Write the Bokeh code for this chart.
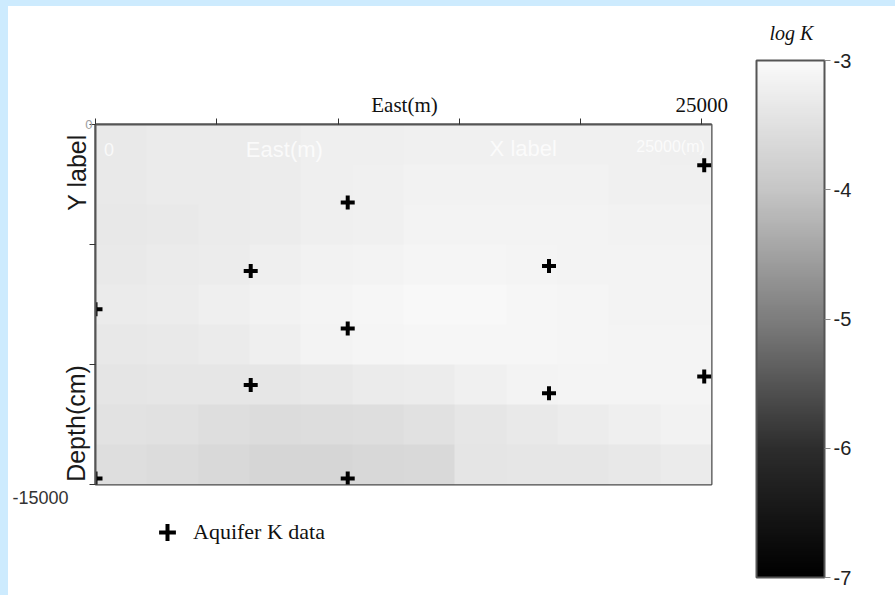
import numpy as np
from bokeh.plotting import figure
from bokeh.layouts import row, column
from bokeh.models import (LinearColorMapper, ColorBar, FixedTicker, Label,
                          Legend, LegendItem, LinearAxis)
from bokeh.embed import file_html
from bokeh.resources import INLINE

# ---------------- data ----------------
X_MAX = 25400          # east extent of the field (m)
Y_MIN = -15000         # depth of the field (cm)

# logK field, rows from top (0) to bottom (-15000), columns west -> east
logk_rows = [
    [-3.33, -3.31, -3.29, -3.27, -3.23, -3.21, -3.19, -3.19, -3.19, -3.19, -3.19, -3.21],
    [-3.33, -3.31, -3.29, -3.27, -3.23, -3.19, -3.17, -3.17, -3.17, -3.17, -3.19, -3.19],
    [-3.35, -3.33, -3.31, -3.27, -3.23, -3.19, -3.15, -3.15, -3.15, -3.15, -3.17, -3.17],
    [-3.33, -3.31, -3.27, -3.23, -3.17, -3.13, -3.10, -3.10, -3.12, -3.13, -3.15, -3.15],
    [-3.31, -3.27, -3.21, -3.17, -3.12, -3.08, -3.06, -3.06, -3.08, -3.10, -3.13, -3.13],
    [-3.35, -3.33, -3.29, -3.23, -3.13, -3.10, -3.08, -3.08, -3.08, -3.10, -3.12, -3.12],
    [-3.42, -3.40, -3.40, -3.38, -3.35, -3.31, -3.27, -3.19, -3.13, -3.12, -3.12, -3.12],
    [-3.48, -3.50, -3.54, -3.58, -3.56, -3.54, -3.50, -3.38, -3.33, -3.27, -3.21, -3.17],
    [-3.54, -3.58, -3.65, -3.69, -3.69, -3.67, -3.63, -3.42, -3.40, -3.38, -3.35, -3.31],
]

# Aquifer K data locations
well_x = [25100, 10400, 6400, 18700, 0, 10400, 6400, 18700, 25100, 0, 10400]
well_y = [-1700, -3250, -6100, -5900, -7700, -8500, -10850, -11200, -10500, -14750, -14750]

x_ticks = [0, 5000, 10000, 15000, 20000, 25000]
y_ticks = [-15000, -10000, -5000, 0]
cb_ticks = [-7, -6, -5, -4, -3]
K_LOW, K_HIGH = -7, -3

top_labels = {12741: "East(m)", 25000: "25000"}
left_labels = {-2000: "Y label", -12458: "Depth(cm)"}
corner_labels = {0: "0", -5000: "", -10000: "", -15000: ""}
depth_label = {98: "-15000"}

# ---------------- styling ----------------
SANS = "Liberation Sans"
SERIF = "Liberation Serif"
CROSS = dict(marker="cross", size=14, line_width=4, line_color="black")

anchor_k = [-7, -6, -5, -4, -3]
anchor_g = [0, 45, 125, 198, 250]
greys = np.interp(np.linspace(K_LOW, K_HIGH, 256), anchor_k, anchor_g).round().astype(int)
palette = ["#%02x%02x%02x" % (g, g, g) for g in greys]
mapper = LinearColorMapper(palette=palette, low=K_LOW, high=K_HIGH)

# ---------------- main map ----------------
p = figure(width=732, height=480, x_range=(0, X_MAX), y_range=(Y_MIN, 0),
           x_axis_location="above", output_backend="svg", toolbar_location=None,
           min_border_left=87, min_border_right=29, min_border_top=118,
           min_border_bottom=2)
p.background_fill_color = "white"
p.border_fill_color = "white"
p.grid.visible = False
p.outline_line_color = "#4a4a4a"
p.outline_line_width = 2

field = np.flipud(np.array(logk_rows))
p.image(image=[field], x=0, y=Y_MIN, dw=X_MAX, dh=-Y_MIN, color_mapper=mapper)

xa = p.xaxis[0]
xa.ticker = FixedTicker(ticks=list(top_labels), minor_ticks=x_ticks)
xa.major_label_overrides = top_labels
xa.major_label_text_font = SERIF
xa.major_label_text_font_size = "21px"
xa.major_label_text_color = "#111111"
xa.major_label_standoff = 2
xa.major_tick_out = 0
xa.major_tick_in = 0
xa.minor_tick_out = 6
xa.minor_tick_in = 0
xa.minor_tick_line_color = "#333333"
xa.axis_line_color = "#555555"
xa.axis_line_width = 2

ya = p.yaxis[0]
ya.ticker = FixedTicker(ticks=y_ticks)
ya.major_label_overrides = corner_labels
ya.major_label_text_font = SANS
ya.major_label_text_font_size = "13px"
ya.major_label_text_color = "#a0a0a0"
ya.major_label_standoff = -3
ya.major_tick_out = 6
ya.major_tick_in = 0
ya.minor_tick_line_color = None
ya.axis_line_color = "#555555"
ya.axis_line_width = 2
ya.major_tick_line_color = "#333333"

ya2 = LinearAxis(ticker=FixedTicker(ticks=list(left_labels)),
                 major_label_overrides=left_labels,
                 major_label_orientation="vertical",
                 major_label_text_font=SANS, major_label_text_font_size="25px",
                 major_label_text_color="#1a1a1a", major_label_standoff=-14,
                 axis_line_color=None, major_tick_line_color=None,
                 minor_tick_line_color=None)
p.add_layout(ya2, "left")

for txt, lx, ly, fs in [("0", 350, -1050, "18px"), ("East(m)", 6200, -1050, "22px"),
                        ("X label", 16250, -1000, "22px"), ("25000(m)", 22300, -900, "16px")]:
    p.add_layout(Label(x=lx, y=ly, text=txt, text_font=SANS, text_font_size=fs,
                       text_color="white", text_alpha=0.75, text_baseline="middle"))

p.scatter(well_x, well_y, **CROSS)

# ---------------- strip under the map (legend, -15000) ----------------
b = figure(width=732, height=109, x_range=(0, 616), y_range=(0, 109),
           x_axis_location=None, y_axis_location="left", min_border=0,
           output_backend="svg", toolbar_location=None)
b.outline_line_color = None
b.grid.visible = False
b.background_fill_color = "white"
b.border_fill_color = "white"
by = b.yaxis[0]
by.ticker = FixedTicker(ticks=list(depth_label))
by.major_label_overrides = depth_label
by.major_label_text_font = SANS
by.major_label_text_font_size = "18px"
by.major_label_text_color = "#333333"
by.major_label_standoff = 27
by.major_tick_out = 0
by.major_tick_in = 0
by.major_tick_line_color = None
by.minor_tick_line_color = None
by.axis_line_color = None

key = b.scatter(well_x[:1], well_y[:1], visible=False, **CROSS)
b.add_layout(Legend(items=[LegendItem(label="Aquifer K data", renderers=[key])],
                    location=(51, 42), glyph_width=42, glyph_height=42,
                    label_standoff=5, padding=0, margin=0, spacing=0,
                    border_line_color=None, background_fill_alpha=0,
                    inactive_fill_alpha=0,
                    label_text_font=SERIF, label_text_font_size="22px",
                    label_text_color="#111111"), "center")

# ---------------- colour bar ----------------
c = figure(width=155, height=589, x_range=(0, 155), y_range=(0, 589),
           x_axis_location=None, y_axis_location=None, min_border=0,
           output_backend="svg", toolbar_location=None)
c.outline_line_color = None
c.grid.visible = False
c.background_fill_color = "white"
c.border_fill_color = "white"
cb = ColorBar(color_mapper=mapper, ticker=FixedTicker(ticks=cb_ticks),
              major_label_overrides={t: str(t) for t in cb_ticks},
              width=68, height=517, location=(16, 18), padding=0,
              bar_line_color="#555555", bar_line_width=2,
              major_tick_in=0, major_tick_out=6, major_tick_line_color="#888888",
              minor_tick_line_color=None, label_standoff=3,
              major_label_text_font=SANS, major_label_text_font_size="20px",
              major_label_text_color="#222222",
              background_fill_alpha=0, border_line_color=None)
c.add_layout(cb, "center")
c.add_layout(Label(x=51, y=563, text="log K", text_font=SERIF, text_font_style="italic",
                   text_font_size="20px", text_color="#111111", text_align="center",
                   text_baseline="middle"))

layout = row(column(p, b, spacing=0), c, spacing=0)

html = file_html(layout, INLINE, title="logK")
head_end = html.index("</head>")
body_at = html.index("<body", head_end)
style = ('<body style="padding: 6px 0 0 8px; overflow: hidden; '
         'background: linear-gradient(to right, #cdebfe 8px, rgba(255,255,255,0) 8px), '
         'linear-gradient(to bottom, #cdebfe 6px, #ffffff 6px);"')
html = html[:body_at] + style + html[body_at + len("<body"):]
open("out.html", "w").write(html)
